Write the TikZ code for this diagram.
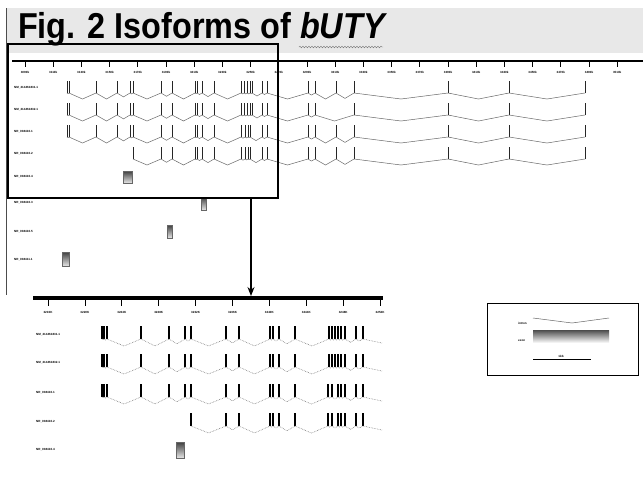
\documentclass[tikz,border=0pt]{standalone}
\usepackage{fontspec}
\setmainfont{Liberation Sans}
\usetikzlibrary{positioning,calc,arrows.meta,decorations.pathmorphing}

\tikzset{
  exon/.style={line width=0.9pt, draw=black!85},
  lexon/.style={line width=1.3pt, draw=black},
  intron/.style={draw=black!60, line width=0.5pt},
  lintron/.style={draw=black!55, line width=0.6pt, densely dotted},
  tinylbl/.style={font=\fontsize{3}{3}\selectfont\bfseries, inner sep=0pt},
  ncrna/.style={draw=black!60, line width=0.4pt, top color=black!75, bottom color=black!10},
}

% base y, exon height, max dip, exon style, intron style, exon positions
\newcommand{\isoform}[6]{%
  \foreach \ex [remember=\ex as \prev (initially 0)] in {#6} {
    \draw[#4] (\ex,#1) -- ++(0,-#2);
    \ifnum\prev>0
      \draw[#5] (\prev,#1) -- ({(\prev+\ex)/2},{#1+min(#3,0.3*(\ex-\prev))}) -- (\ex,#1);
    \fi
  }}

\begin{document}
\begin{tikzpicture}[x=1pt,y=-1pt]
    \useasboundingbox (0,0) rectangle (643,491);

    % title band
    \fill[black!9] (6,8) rectangle (643,53);
    \draw[black!70] (6,8) -- (6,295);
    \node[anchor=base west, font=\fontsize{36}{36}\selectfont\bfseries, inner sep=0pt, xscale=0.9] (title) at (18,38) {Fig. 2 Isoforms of \textit{bUTY}};
    \draw[black!55, decorate, decoration={snake, amplitude=0.8pt, segment length=3pt}] (299,47) -- (383,47);

    % whole locus
    \begin{scope}
        \draw[line width=2.5pt] (12,61) -- (643,61);
        \foreach \k in {0,...,21} {
            \pgfmathsetmacro\tx{25+28.2*\k}
            \draw[line width=0.8pt] (\tx,61) -- (\tx,67);
            \node[tinylbl] (tk\k) at (\tx,72) {\number\numexpr 3090+20*\k\relax k};
        }
        \foreach \y/\nm [count=\i] in {88/NM\_214461831.1, 110/NM\_214461832.1, 132/NR\_038410.1, 154/NR\_038410.2, 177/NR\_038410.4, 203/NR\_038410.3, 232/NR\_038410.5, 260/NR\_038411.1}
            \node[tinylbl, anchor=west] (lbl\i) at (14,\y) {\nm};
        % coding isoforms
        \isoform{93}{12}{6}{exon}{intron}{67,69,96,117,130,133,161,172,195,197,202,214,241,244,247,250,252,262,267,308,315,336,354,448,509,585}
        \isoform{115}{12}{6}{exon}{intron}{67,69,96,117,130,133,161,172,195,197,202,214,241,244,247,250,252,262,267,308,315,354,448,509,585}
        \isoform{137}{12}{6}{exon}{intron}{67,69,96,117,130,133,161,172,195,197,202,214,241,245,248,250,262,267,308,315,336,354,448,509,585}
        \isoform{159}{12}{6}{exon}{intron}{133,161,172,195,197,202,214,241,245,248,250,262,267,308,315,336,354,448,509,585}
        % single exon transcripts
        \draw[ncrna] (123,171) rectangle (132,183);
        \draw[ncrna] (201,197) rectangle (206,210);
        \draw[ncrna] (167,225) rectangle (172,238);
        \draw[ncrna] (62,252) rectangle (69,266);
        % region shown below
        \draw[line width=1.2pt] (8,44) rectangle (278,198);
        \coordinate (zoomsrc) at (251,198);
    \end{scope}

    % enlarged region
    \begin{scope}
        \coordinate (zoomdst) at (251,296);
        \draw[line width=1.2pt, -{Stealth[length=9pt,width=7pt]}] (zoomsrc) -- (zoomdst);
        \draw[line width=3.5pt] (33,298) -- (383,298);
        \foreach \k in {0,...,9} {
            \pgfmathsetmacro\tx{48+36.9*\k}
            \draw[line width=0.8pt] (\tx,298) -- (\tx,306);
            \node[tinylbl] (ltk\k) at (\tx,312) {\number\numexpr 3216+4*\k\relax K};
        }
        \foreach \y/\nm [count=\i] in {335/NM\_214461831.1, 363/NM\_214461832.1, 393/NR\_038410.1, 422/NR\_038410.2, 450/NR\_038410.4}
            \node[tinylbl, anchor=west] (llbl\i) at (36,\y) {\nm};
        \isoform{339}{13}{7}{lexon}{lintron}{102,104,107,141,169,185,191,226,239,270,273,279,295,329,332,335,338,341,345,356,363}
        \isoform{367}{13}{7}{lexon}{lintron}{102,104,107,141,169,185,191,226,239,270,273,279,295,329,332,335,338,341,345,356,363}
        \isoform{397}{13}{7}{lexon}{lintron}{102,104,107,141,169,185,191,226,239,270,273,279,295,328,332,338,341,345,356,363}
        \isoform{426}{13}{7}{lexon}{lintron}{191,226,239,270,273,279,295,328,332,338,341,345,356,363}
        \foreach \b in {339,367,397,426}
            \draw[lintron] (363,\b) -- (382,\b+4);
        \draw[ncrna] (176,442) rectangle (184,458);
    \end{scope}

    % legend
    \begin{scope}
        \draw[line width=1pt] (487,303) rectangle (638,375);
        \node[tinylbl, anchor=west] (legintron) at (518,323) {intron};
        \node[tinylbl, anchor=west] (legexon) at (518,341) {exon};
        \draw[intron] (533,318) -- (572,323) -- (609,318);
        \draw[ncrna, draw=none, top color=black!70, bottom color=black!5] (533,330) rectangle (609,342);
        \draw[line width=1pt] (533,359) -- (591,359);
        \node[tinylbl, anchor=south] (legscale) at (561,358) {1kb};
    \end{scope}
\end{tikzpicture}
\end{document}
